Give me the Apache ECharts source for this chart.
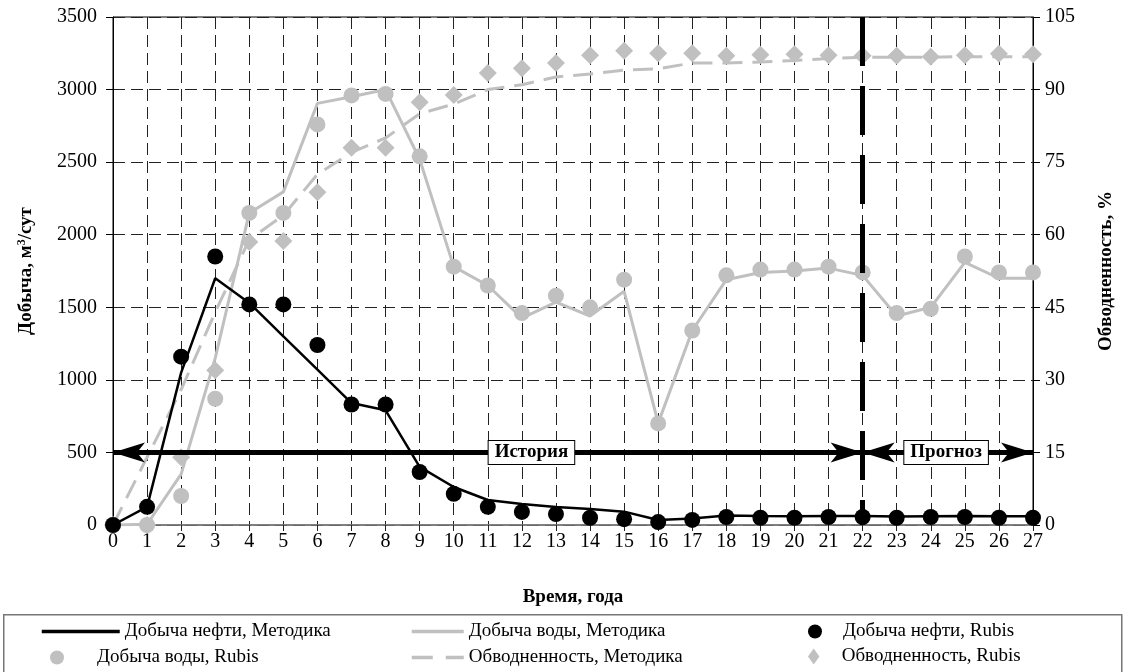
<!DOCTYPE html>
<html>
<head>
<meta charset="utf-8">
<script src="https://cdn.jsdelivr.net/npm/echarts@6/dist/echarts.min.js"></script>
<style>
  html, body { margin: 0; padding: 0; background: #fff; }
  #chart { width: 1124px; height: 672px; }
</style>
</head>
<body>
<div id="chart"></div>
<script>
// Time axis, years
const years = [0, 1, 2, 3, 4, 5, 6, 7, 8, 9, 10, 11, 12, 13, 14, 15, 16, 17, 18, 19, 20, 21, 22, 23, 24, 25, 26, 27];

// Oil production, m3/day
const oilMethod = [0, 125, 1050, 1700, 1530, 1300, 1070, 840, 790, 400, 262, 172, 145, 124, 110, 92, 35, 45, 65, 62, 60, 62, 62, 58, 60, 62, 60, 60];
const oilRubis  = [0, 125, 1160, 1850, 1520, 1520, 1240, 830, 830, 365, 215, 125, 90, 75, 50, 40, 20, 35, 55, 50, 50, 55, 55, 50, 55, 55, 50, 50];

// Water production, m3/day
const waterMethod = [0, 5, 350, 1150, 2150, 2295, 2905, 2950, 3000, 2520, 1780, 1650, 1425, 1536, 1440, 1610, 702, 1340, 1690, 1740, 1750, 1770, 1720, 1440, 1500, 1810, 1700, 1700];
const waterRubis  = [0, 0, 200, 870, 2150, 2150, 2760, 2960, 2970, 2540, 1780, 1650, 1460, 1580, 1500, 1690, 700, 1340, 1720, 1760, 1760, 1780, 1740, 1460, 1490, 1850, 1740, 1740];

// Water cut, %
const cutMethod = [0, 14, 28, 44, 59, 64, 72.5, 77, 80, 85, 87, 90, 91, 92.6, 93.2, 94, 94.3, 95.5, 95.5, 95.7, 96, 96.4, 96.7, 96.7, 96.7, 96.8, 96.8, 96.8];
const cutRubis  = [0, 0, 14, 32, 58.5, 58.7, 68.8, 78, 78, 87.4, 88.9, 93.4, 94.4, 95.5, 97.1, 98, 97.5, 97.5, 97, 97.2, 97.3, 97.1, 97, 97, 96.8, 97.1, 97.4, 97.3];

// History / forecast split
const splitYear = 22;
const arrowLevel = 500;
const periodLabels = ['История', 'Прогноз'];

const names = {
  oilMethod: 'Добыча нефти, Методика',
  waterMethod: 'Добыча воды, Методика',
  oilRubis: 'Добыча нефти, Rubis',
  waterRubis: 'Добыча воды, Rubis',
  cutMethod: 'Обводненность, Методика',
  cutRubis: 'Обводненность, Rubis'
};

const FONT = '"Liberation Serif", "Times New Roman", serif';
const GREY = '#c0c0c0';
const pairs = vals => years.map((x, i) => [x, vals[i]]);
const plain = v => String(v);

const gridLine = { show: true, lineStyle: { color: '#222', width: 1, type: [12, 6] } };

const arrowEnd = (coord) => ({ coord: coord, symbol: 'arrow', symbolSize: [15, 32] });
const arrowLine = { color: '#000', width: 5, type: 'solid' };

const chart = echarts.init(document.getElementById('chart'), null, { renderer: 'canvas' });

const legendBase = {
  orient: 'horizontal',
  padding: 0,
  itemHeight: 14,
  selectedMode: false,
  textStyle: { fontFamily: FONT, fontSize: 19, color: '#000' }
};
// line-only legend keys: hide the marker that line series put in the middle of the key
const lineKey = { itemStyle: { opacity: 0 } };
const markerText = pad => ({ fontFamily: FONT, fontSize: 19, color: '#000', padding: [0, 0, 0, pad] });

chart.setOption({
  animation: false,
  backgroundColor: '#fff',
  grid: {
    left: 113, right: 90, top: 17, bottom: 147,
    show: true, borderColor: '#000', borderWidth: 1, backgroundColor: 'transparent'
  },
  xAxis: {
    type: 'value', min: 0, max: 27, interval: 1,
    name: 'Время, года', nameLocation: 'middle', nameGap: 63,
    nameTextStyle: { fontFamily: FONT, fontSize: 19, fontWeight: 'bold', color: '#000' },
    axisLine: { show: true, onZero: false, lineStyle: { color: '#808080', width: 1.5 } },
    axisTick: { show: true, length: 6, lineStyle: { color: '#222' } },
    axisLabel: { fontFamily: FONT, fontSize: 20, color: '#000', margin: 7, formatter: plain },
    splitLine: gridLine
  },
  yAxis: [
    {
      type: 'value', min: 0, max: 3500, interval: 500, position: 'left',
      name: '{t|Добыча, м}{s|3}{t|/сут}', nameLocation: 'middle', nameGap: 77, nameRotate: 90,
      nameTextStyle: {
        rich: {
          t: { fontFamily: FONT, fontSize: 19, fontWeight: 'bold', color: '#000' },
          s: { fontFamily: FONT, fontSize: 12, fontWeight: 'bold', color: '#000', verticalAlign: 'top', padding: [0, 0, 8, 0] }
        }
      },
      axisLine: { show: true, lineStyle: { color: '#000', width: 1 } },
      axisTick: { show: true, length: 7, lineStyle: { color: '#000' } },
      axisLabel: { fontFamily: FONT, fontSize: 20, color: '#000', margin: 16, formatter: plain },
      splitLine: gridLine
    },
    {
      type: 'value', min: 0, max: 105, interval: 15, position: 'right',
      name: 'Обводненность, %', nameLocation: 'middle', nameGap: 64, nameRotate: 90,
      nameTextStyle: { fontFamily: FONT, fontSize: 19, fontWeight: 'bold', color: '#000' },
      axisLine: { show: true, lineStyle: { color: '#000', width: 1 } },
      axisTick: { show: true, length: 7, lineStyle: { color: '#000' } },
      axisLabel: { fontFamily: FONT, fontSize: 20, color: '#000', margin: 12, formatter: plain },
      splitLine: { show: false }
    }
  ],
  legend: [
    Object.assign({}, legendBase, lineKey, { left: 40,  top: 622, itemWidth: 78, lineStyle: { width: 3.5 }, data: [names.oilMethod] }),
    Object.assign({}, legendBase, lineKey, { left: 410, top: 622, itemWidth: 52, lineStyle: { width: 3.5 }, data: [names.waterMethod] }),
    Object.assign({}, legendBase, { left: 808, top: 622, itemWidth: 14, textStyle: markerText(16), data: [names.oilRubis] }),
    Object.assign({}, legendBase, { left: 50,  top: 648, itemWidth: 14, textStyle: markerText(28), data: [names.waterRubis] }),
    Object.assign({}, legendBase, lineKey, { left: 410, top: 648, itemWidth: 52, lineStyle: { width: 3.5, type: [21, 13] }, data: [names.cutMethod] }),
    Object.assign({}, legendBase, { left: 808, top: 647, itemWidth: 14, itemHeight: 16, symbolKeepAspect: true, textStyle: markerText(16),
      data: [{ name: names.cutRubis, icon: 'path://M5,0L10,7L5,14L0,7Z' }] })
  ],
  graphic: [
    {
      type: 'rect', left: 3, top: 614, silent: true, z: -1,
      shape: { width: 1118, height: 70 },
      style: { fill: 'transparent', stroke: '#777', lineWidth: 1.5 }
    }
  ],
  series: [
    {
      name: names.cutMethod, type: 'line', yAxisIndex: 1, data: pairs(cutMethod),
      symbol: 'none', z: 2,
      lineStyle: { color: GREY, width: 3, type: [20, 10] }, itemStyle: { color: GREY }
    },
    {
      name: names.waterMethod, type: 'line', data: pairs(waterMethod),
      symbol: 'none', z: 2,
      lineStyle: { color: GREY, width: 3 }, itemStyle: { color: GREY }
    },
    {
      name: names.waterRubis, type: 'scatter', data: pairs(waterRubis),
      symbol: 'circle', symbolSize: 16, z: 3,
      itemStyle: { color: GREY, opacity: 1 }
    },
    {
      name: names.cutRubis, type: 'scatter', yAxisIndex: 1, data: pairs(cutRubis),
      symbol: 'diamond', symbolSize: 18, z: 3,
      itemStyle: { color: GREY, opacity: 1 }
    },
    {
      name: names.oilMethod, type: 'line', data: pairs(oilMethod),
      symbol: 'none', z: 4,
      lineStyle: { color: '#000', width: 2.5 }, itemStyle: { color: '#000' },
      markLine: {
        silent: true, animation: false, z: 6,
        symbol: ['none', 'none'],
        label: { show: false },
        data: [
          [Object.assign(arrowEnd([0, arrowLevel]), { lineStyle: arrowLine }), arrowEnd([splitYear, arrowLevel])],
          [Object.assign(arrowEnd([splitYear, arrowLevel]), { lineStyle: arrowLine }), arrowEnd([27, arrowLevel])],
          [
            { coord: [splitYear, 3500], symbol: 'none', lineStyle: { color: '#000', width: 5, type: [49, 20], dashOffset: 0 } },
            { coord: [splitYear, 0], symbol: 'none' }
          ]
        ]
      },
      markPoint: {
        silent: true, animation: false, z: 7,
        symbol: 'rect', symbolSize: 0,
        label: {
          show: true, position: 'inside', formatter: '{b}',
          fontFamily: FONT, fontSize: 19, fontWeight: 'bold', color: '#000',
          backgroundColor: '#fff', borderColor: '#000', borderWidth: 1, padding: [3, 6, 1, 6]
        },
        data: [
          { name: periodLabels[0], coord: [12.28, arrowLevel] },
          { name: periodLabels[1], coord: [24.45, arrowLevel] }
        ]
      }
    },
    {
      name: names.oilRubis, type: 'scatter', data: pairs(oilRubis),
      symbol: 'circle', symbolSize: 16, z: 5,
      itemStyle: { color: '#000', opacity: 1 }
    }
  ]
});
</script>
</body>
</html>
